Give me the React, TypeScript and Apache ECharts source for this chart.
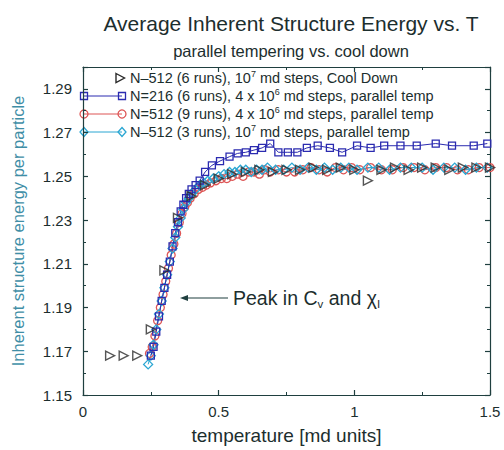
import React, { useEffect, useRef } from "react";
import * as echarts from "echarts";

// ---- data ----
const coolT = [0.10, 0.15, 0.20, 0.25, 0.30, 0.35, 0.40, 0.45, 0.50, 0.55, 0.60, 0.65, 0.70, 0.75, 0.80, 0.85, 0.90, 0.95, 1.00, 1.05, 1.10, 1.15, 1.20, 1.25, 1.30, 1.35, 1.40, 1.45, 1.50];
const coolE = [1.168, 1.168, 1.168, 1.180, 1.207, 1.231, 1.241, 1.246, 1.249, 1.251, 1.252, 1.253, 1.252, 1.253, 1.253, 1.254, 1.253, 1.254, 1.253, 1.248, 1.253, 1.254, 1.253, 1.254, 1.254, 1.253, 1.254, 1.254, 1.254];

const blueT = [0.25, 0.26, 0.27, 0.28, 0.29, 0.30, 0.31, 0.32, 0.33, 0.34, 0.35, 0.36, 0.37, 0.38, 0.39, 0.40, 0.415, 0.43, 0.45, 0.475, 0.505, 0.54, 0.57, 0.60, 0.63, 0.66, 0.69, 0.72, 0.755, 0.79, 0.825, 0.865, 0.91, 0.955, 1.01, 1.06, 1.11, 1.17, 1.23, 1.30, 1.36, 1.44, 1.49];
const blueE = [1.168, 1.172, 1.179, 1.186, 1.193, 1.199, 1.205, 1.211, 1.218, 1.224, 1.229, 1.234, 1.237, 1.240, 1.242, 1.244, 1.246, 1.248, 1.252, 1.255, 1.257, 1.259, 1.2605, 1.261, 1.262, 1.263, 1.265, 1.261, 1.261, 1.261, 1.263, 1.264, 1.263, 1.261, 1.264, 1.263, 1.264, 1.264, 1.264, 1.265, 1.264, 1.264, 1.265];

const redT = [0.245, 0.255, 0.265, 0.275, 0.285, 0.295, 0.305, 0.315, 0.325, 0.335, 0.345, 0.355, 0.365, 0.375, 0.385, 0.395, 0.41, 0.425, 0.44, 0.455, 0.47, 0.49, 0.51, 0.53, 0.55, 0.57, 0.59, 0.61, 0.63, 0.65, 0.67, 0.69, 0.72, 0.75, 0.78, 0.81, 0.84, 0.87, 0.90, 0.93, 0.96, 0.99, 1.02, 1.06, 1.10, 1.14, 1.18, 1.22, 1.26, 1.30, 1.34, 1.38, 1.42, 1.46, 1.50];
const redE = [1.169, 1.172, 1.177, 1.184, 1.190, 1.196, 1.202, 1.208, 1.214, 1.219, 1.224, 1.229, 1.233, 1.236, 1.238, 1.240, 1.242, 1.244, 1.245, 1.246, 1.247, 1.248, 1.249, 1.249, 1.250, 1.251, 1.250, 1.252, 1.252, 1.251, 1.253, 1.252, 1.253, 1.252, 1.252, 1.253, 1.254, 1.253, 1.252, 1.254, 1.253, 1.254, 1.253, 1.254, 1.253, 1.253, 1.254, 1.254, 1.253, 1.254, 1.254, 1.253, 1.253, 1.254, 1.254];

const cyanT = [0.24, 0.25, 0.26, 0.27, 0.28, 0.29, 0.30, 0.31, 0.32, 0.33, 0.34, 0.35, 0.36, 0.37, 0.38, 0.39, 0.40, 0.415, 0.43, 0.445, 0.46, 0.48, 0.50, 0.52, 0.54, 0.56, 0.58, 0.60, 0.62, 0.64, 0.66, 0.68, 0.71, 0.74, 0.77, 0.80, 0.83, 0.86, 0.89, 0.92, 0.95, 0.98, 1.01, 1.05, 1.09, 1.13, 1.17, 1.21, 1.25, 1.29, 1.33, 1.37, 1.41, 1.45, 1.49];
const cyanE = [1.164, 1.168, 1.173, 1.180, 1.187, 1.193, 1.199, 1.205, 1.211, 1.217, 1.222, 1.227, 1.231, 1.235, 1.238, 1.240, 1.242, 1.244, 1.246, 1.247, 1.248, 1.249, 1.250, 1.251, 1.252, 1.252, 1.253, 1.253, 1.252, 1.253, 1.253, 1.254, 1.253, 1.253, 1.254, 1.253, 1.254, 1.253, 1.254, 1.253, 1.254, 1.254, 1.253, 1.254, 1.254, 1.253, 1.254, 1.254, 1.254, 1.253, 1.254, 1.254, 1.253, 1.254, 1.254];

const xTicks = [0, 0.5, 1, 1.5];
const yTickLabels = ["1.15", "1.17", "1.19", "1.21", "1.23", "1.25", "1.27", "1.29"];

const legendTexts = [
  "N–512 (6 runs), 10{p|7} md steps, Cool Down",
  "N=216 (6 runs), 4 x 10{p|6} md steps, parallel temp",
  "N=512 (9 runs), 4 x 10{p|6} md steps, parallel temp",
  "N–512 (3 runs), 10{p|7} md steps, parallel temp",
];

const FONT = "Liberation Sans, Arial, Helvetica, sans-serif";
const TXT = "#1c2e2e";
const AXIS = "#1f3f3f";
const C_COOL = "#2a2a2a";
const C_BLUE = "#2b2bb0";
const C_RED = "#dd5555";
const C_CYAN = "#2aa6d2";

const pair = (xs: number[], ys: number[]) => xs.map((x, i) => [x, ys[i]]);

export default function App() {
  const ref = useRef<HTMLDivElement>(null);
  useEffect(() => {
    if (!ref.current) return;
    const chart = echarts.init(ref.current, undefined, { renderer: "svg" });

    const hollow = (c: string) => ({ color: "rgba(0,0,0,0)", borderColor: c, borderWidth: 1.3 });
    const lineSeries = (name: string, data: number[][], c: string, symbol: string, size: number) => ({
      name,
      type: "line",
      data,
      symbol,
      symbolSize: size,
      showSymbol: true,
      color: c,
      itemStyle: hollow(c),
      lineStyle: { color: c, width: 1 },
      z: 3,
    });

    const legendX = 84;
    const legendX2 = 122;
    const textX = 130;
    const rowsY = [78, 96, 114, 132];
    const legendGraphics: any[] = [];
    legendGraphics.push({
      type: "polygon",
      shape: { points: [[116, rowsY[0] - 4.5], [124.5, rowsY[0]], [116, rowsY[0] + 4.5]] },
      style: { fill: "none", stroke: C_COOL, lineWidth: 1.4 },
    });
    legendGraphics.push({ type: "line", shape: { x1: legendX, y1: rowsY[1], x2: legendX2, y2: rowsY[1] }, style: { stroke: C_BLUE, lineWidth: 1 } });
    [legendX, legendX2].forEach((cx) =>
      legendGraphics.push({ type: "rect", shape: { x: cx - 3.5, y: rowsY[1] - 3.5, width: 7, height: 7 }, style: { fill: "none", stroke: C_BLUE, lineWidth: 1.3 } })
    );
    legendGraphics.push({ type: "line", shape: { x1: legendX, y1: rowsY[2], x2: legendX2, y2: rowsY[2] }, style: { stroke: C_RED, lineWidth: 1 } });
    [legendX, legendX2].forEach((cx) =>
      legendGraphics.push({ type: "circle", shape: { cx, cy: rowsY[2], r: 4 }, style: { fill: "none", stroke: C_RED, lineWidth: 1.3 } })
    );
    legendGraphics.push({ type: "line", shape: { x1: legendX, y1: rowsY[3], x2: legendX2, y2: rowsY[3] }, style: { stroke: C_CYAN, lineWidth: 1 } });
    [legendX, legendX2].forEach((cx) =>
      legendGraphics.push({
        type: "polygon",
        shape: { points: [[cx, rowsY[3] - 4.5], [cx + 4, rowsY[3]], [cx, rowsY[3] + 4.5], [cx - 4, rowsY[3]]] },
        style: { fill: "none", stroke: C_CYAN, lineWidth: 1.3 },
      })
    );
    legendTexts.forEach((t, i) =>
      legendGraphics.push({
        type: "text",
        x: textX,
        y: rowsY[i],
        style: {
          text: t,
          fill: TXT,
          fontSize: 14.5,
          fontFamily: FONT,
          verticalAlign: "middle",
          align: "left",
          rich: { p: { fontSize: 9, fontFamily: FONT, fill: TXT, padding: [0, 0, 9, 0] } },
        },
      })
    );

    const annY = 298;
    const annotation: any[] = [
      { type: "line", shape: { x1: 186, y1: annY, x2: 228, y2: annY }, style: { stroke: AXIS, lineWidth: 1.2 } },
      { type: "polygon", shape: { points: [[180, annY], [188, annY - 3], [188, annY + 3]] }, style: { fill: AXIS } },
      {
        type: "text",
        x: 233,
        y: annY,
        style: {
          text: "Peak in C{s|v} and χ{s|I}",
          fill: TXT,
          fontSize: 19.5,
          fontFamily: FONT,
          verticalAlign: "middle",
          align: "left",
          rich: { s: { fontSize: 11.5, fontFamily: FONT, fill: TXT, padding: [11, 0, 0, 0] } },
        },
      },
    ];

    const axisCommon = {
      type: "value",
      axisLine: { show: true, onZero: false, lineStyle: { color: AXIS, width: 1.2 } },
      axisTick: { show: true, inside: true, length: 5, lineStyle: { color: AXIS, width: 1.2 } },
      minorTick: { show: true, splitNumber: 2, length: 3, lineStyle: { color: AXIS, width: 1 } },
      splitLine: { show: false },
      minorSplitLine: { show: false },
    };

    chart.setOption({
      animation: false,
      backgroundColor: "#ffffff",
      title: [
        {
          text: "Average Inherent Structure Energy vs. T",
          left: 286,
          top: 8,
          textAlign: "center",
          textStyle: { fontFamily: FONT, fontSize: 21, fontWeight: "normal", color: TXT },
        },
        {
          text: "parallel tempering vs. cool down",
          left: 286,
          top: 37,
          textAlign: "center",
          textStyle: { fontFamily: FONT, fontSize: 16.5, fontWeight: "normal", color: TXT },
        },
      ],
      grid: { left: 83, right: 14, top: 67, bottom: 52, containLabel: false },
      xAxis: [
        {
          ...axisCommon,
          position: "bottom",
          min: 0,
          max: 1.5,
          interval: 0.5,
          name: "temperature [md units]",
          nameLocation: "middle",
          nameGap: 31,
          nameTextStyle: { fontFamily: FONT, fontSize: 19, color: TXT },
          axisLabel: {
            margin: 9,
            fontFamily: FONT,
            fontSize: 15,
            color: TXT,
            formatter: (v: number) => {
              const t = xTicks.find((k) => Math.abs(k - v) < 1e-6);
              return t === undefined ? "" : String(t);
            },
          },
        },
        { ...axisCommon, position: "top", min: 0, max: 1.5, interval: 0.5, axisLabel: { show: false } },
      ],
      yAxis: [
        {
          ...axisCommon,
          position: "left",
          min: 1.15,
          max: 1.30,
          interval: 0.02,
          name: "Inherent structure energy per particle",
          nameLocation: "middle",
          nameGap: 57,
          nameTextStyle: { fontFamily: FONT, fontSize: 16.5, color: "#3f8ea6" },
          axisLabel: {
            margin: 11,
            fontFamily: FONT,
            fontSize: 15,
            color: TXT,
            formatter: (v: number) => {
              const s = v.toFixed(2);
              return yTickLabels.includes(s) ? s : "";
            },
          },
        },
        { ...axisCommon, position: "right", min: 1.15, max: 1.30, interval: 0.02, axisLabel: { show: false } },
      ],
      series: [
        lineSeries("N=512 (9 runs)", pair(redT, redE), C_RED, "circle", 8),
        lineSeries("N=512 (3 runs)", pair(cyanT, cyanE), C_CYAN, "diamond", 9),
        {
          name: "Cool Down",
          type: "scatter",
          data: pair(coolT, coolE),
          symbol: "triangle",
          symbolRotate: -90,
          symbolSize: 9,
          itemStyle: { color: "rgba(0,0,0,0)", borderColor: C_COOL, borderWidth: 1.4 },
          z: 4,
        },
        lineSeries("N=216 (6 runs)", pair(blueT, blueE), C_BLUE, "rect", 7),
      ],
      graphic: [...legendGraphics, ...annotation],
    });

    return () => chart.dispose();
  }, []);

  return <div ref={ref} style={{ width: 504, height: 450, position: "absolute", left: 0, top: 0 }} />;
}
